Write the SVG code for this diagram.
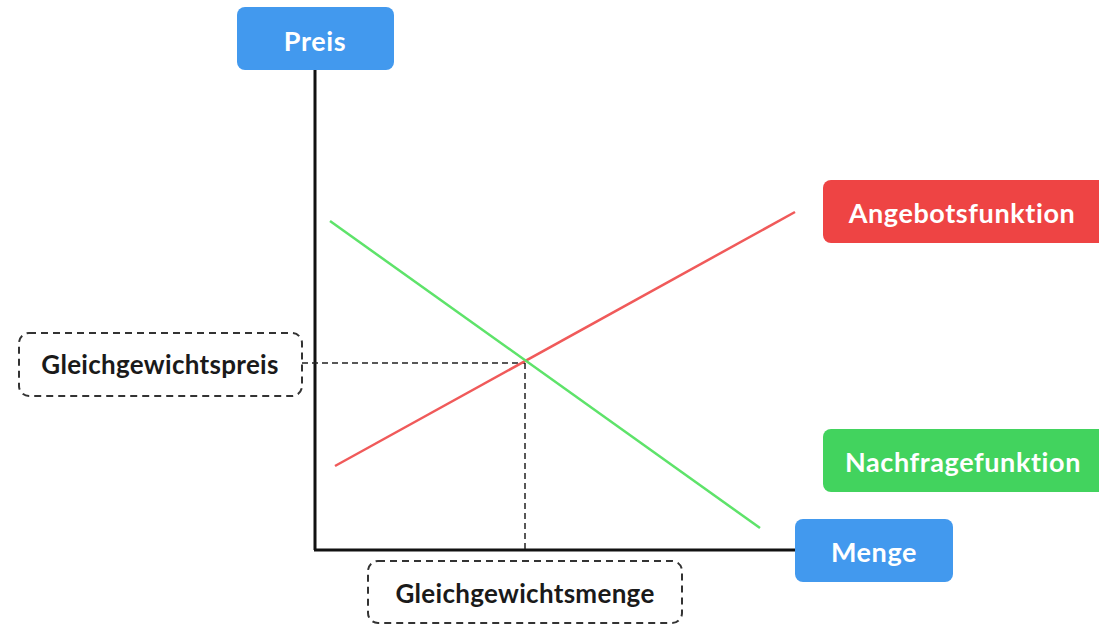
<svg xmlns="http://www.w3.org/2000/svg" width="1099" height="626" viewBox="0 0 1099 626">
<style>
.lbl{font-family:Lato,"Open Sans",sans-serif;font-weight:700;text-anchor:middle;dominant-baseline:central}
.w{fill:#ffffff;font-size:27px;letter-spacing:0.6px}
.b{fill:#1a1a1a;font-size:26px;letter-spacing:0.3px}
.dash{fill:#ffffff;stroke:#333333;stroke-width:2;stroke-dasharray:7 5}
</style>
<rect width="1099" height="626" fill="#ffffff"/>
<g id="connectors">
<line x1="315" y1="70" x2="315" y2="550" stroke="#111111" stroke-width="3"/>
<line x1="314" y1="550" x2="796" y2="550" stroke="#111111" stroke-width="3"/>
<line x1="302" y1="363" x2="525" y2="363" stroke="#222222" stroke-width="1.5" stroke-dasharray="6 4"/>
<line x1="525" y1="363" x2="525" y2="549" stroke="#222222" stroke-width="1.5" stroke-dasharray="6 4"/>
<line x1="335" y1="466" x2="795" y2="212" stroke="#f05a5a" stroke-width="2.5"/>
<line x1="330" y1="221" x2="760" y2="528" stroke="#5ee36a" stroke-width="2.5"/>
</g>
<g id="preis"><rect x="237" y="7" width="157" height="63" rx="8" fill="#4299ee"/><text class="lbl w" x="315" y="40">Preis</text></g>
<g id="angebot"><rect x="823" y="180" width="290" height="63" rx="8" fill="#ee4444"/><text class="lbl w" x="962" y="212">Angebotsfunktion</text></g>
<g id="nachfrage"><rect x="823" y="429" width="290" height="63" rx="8" fill="#42d35e"/><text class="lbl w" x="963" y="461">Nachfragefunktion</text></g>
<g id="menge"><rect x="795" y="519" width="158" height="63" rx="8" fill="#4299ee"/><text class="lbl w" x="874" y="551">Menge</text></g>
<g id="gpreis"><rect class="dash" x="19" y="333" width="283" height="63" rx="10"/><text class="lbl b" x="160" y="364">Gleichgewichtspreis</text></g>
<g id="gmenge"><rect class="dash" x="368" y="561" width="314" height="62" rx="10"/><text class="lbl b" x="525" y="593">Gleichgewichtsmenge</text></g>
</svg>
